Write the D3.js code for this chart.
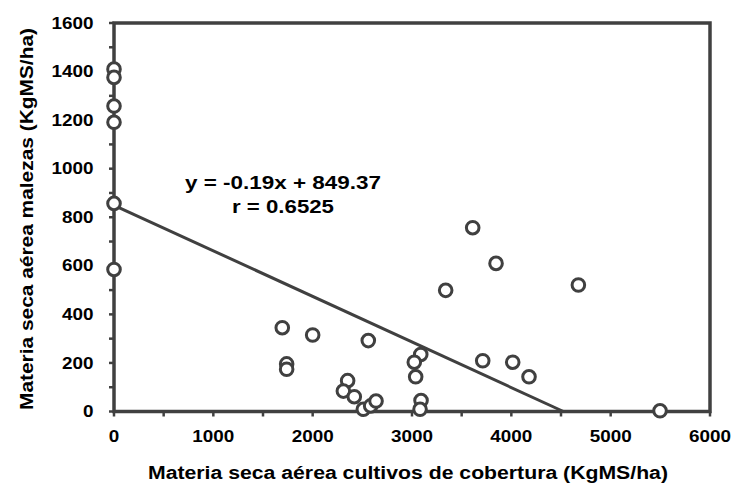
<!DOCTYPE html>
<html>
<head>
<meta charset="utf-8">
<script src="https://cdn.jsdelivr.net/npm/d3@7"></script>
<style>
  body { margin: 0; background: #fff; }
  text { font-family: "Liberation Sans", Arial, sans-serif; font-weight: bold; fill: #000; }
</style>
</head>
<body>
<svg id="chart" width="735" height="490"></svg>
<script>
// cover crop dry matter (x) vs weed dry matter (y), KgMS/ha
var coverKg = [0, 0, 0, 0, 0, 0,
  1694, 2000, 1738, 1738, 2560, 2352, 2309, 2419, 2510, 2584, 2638,
  3088, 3023, 3037, 3091, 3081, 3339, 3611, 3846, 3712,
  4675, 4014, 4178, 5497];
var weedKg = [1410, 1376, 1258, 1191, 857, 585,
  345, 315, 196, 174, 292, 127, 84, 61, 9, 23, 43,
  235, 203, 143, 45, 9, 499, 757, 610, 209,
  521, 203, 143, 3];

var xTicks = [0, 1000, 2000, 3000, 4000, 5000, 6000];
var yTicks = [0, 200, 400, 600, 800, 1000, 1200, 1400, 1600];
var fitSlope = -0.1877;
var fitIntercept = 849.37;
var fitEnd = 4525;
var eqLines = ['y = -0.19x + 849.37', 'r = 0.6525'];

var ink = '#404040';
var svg = d3.select('#chart');

var x = d3.scaleLinear().domain([0, 6000]).range([114, 710]);
var y = d3.scaleLinear().domain([0, 1600]).range([411.5, 23]);

// the original text is a bit wider than Arial, stretch it
function stretch(sel, factor) {
  sel.each(function () {
    var w = this.getComputedTextLength();
    d3.select(this)
      .attr('textLength', w * factor)
      .attr('lengthAdjust', 'spacingAndGlyphs');
  });
}

// minor ticks every 500 / 100, drawn outward
svg.append('g').selectAll('line')
  .data(d3.range(0, 6001, 500))
  .enter().append('line')
  .attr('x1', function (d) { return x(d); })
  .attr('x2', function (d) { return x(d); })
  .attr('y1', y(0))
  .attr('y2', y(0) + 5)
  .attr('stroke', ink)
  .attr('stroke-width', 2.5);

svg.append('g').selectAll('line')
  .data(d3.range(0, 1601, 100))
  .enter().append('line')
  .attr('x1', x(0) - 5)
  .attr('x2', x(0))
  .attr('y1', function (d) { return y(d); })
  .attr('y2', function (d) { return y(d); })
  .attr('stroke', ink)
  .attr('stroke-width', 2.5);

// tick labels
svg.append('g').selectAll('text')
  .data(xTicks)
  .enter().append('text')
  .attr('x', function (d) { return x(d); })
  .attr('y', 441.7)
  .attr('text-anchor', 'middle')
  .style('font-size', '17px')
  .text(function (d) { return d; })
  .call(stretch, 1.11);

svg.append('g').selectAll('text')
  .data(yTicks)
  .enter().append('text')
  .attr('x', 93.5)
  .attr('y', function (d) { return y(d) + 5.6; })
  .attr('text-anchor', 'end')
  .style('font-size', '17px')
  .text(function (d) { return d; })
  .call(stretch, 1.11);

// plot frame
svg.append('rect')
  .attr('x', x(0))
  .attr('y', y(1600))
  .attr('width', x(6000) - x(0))
  .attr('height', y(0) - y(1600))
  .attr('fill', 'none')
  .attr('stroke', ink)
  .attr('stroke-width', 3.5);

// regression line
svg.append('line')
  .attr('x1', x(0))
  .attr('y1', y(fitIntercept))
  .attr('x2', x(fitEnd))
  .attr('y2', y(fitIntercept + fitSlope * fitEnd))
  .attr('stroke', ink)
  .attr('stroke-width', 3);

// points
svg.append('g').selectAll('circle')
  .data(d3.range(coverKg.length))
  .enter().append('circle')
  .attr('cx', function (i) { return x(coverKg[i]); })
  .attr('cy', function (i) { return y(weedKg[i]); })
  .attr('r', 6.3)
  .attr('fill', '#fff')
  .attr('stroke', ink)
  .attr('stroke-width', 3);

// equation
svg.append('text')
  .attr('x', 185)
  .attr('y', 188.5)
  .style('font-size', '19px')
  .attr('textLength', 196)
  .attr('lengthAdjust', 'spacingAndGlyphs')
  .text(eqLines[0]);
svg.append('text')
  .attr('x', 232)
  .attr('y', 212.5)
  .style('font-size', '19px')
  .attr('textLength', 102)
  .attr('lengthAdjust', 'spacingAndGlyphs')
  .text(eqLines[1]);

// axis titles
svg.append('text')
  .attr('x', 148)
  .attr('y', 478.5)
  .style('font-size', '18px')
  .attr('textLength', 520)
  .attr('lengthAdjust', 'spacingAndGlyphs')
  .text('Materia seca aérea cultivos de cobertura (KgMS/ha)');

svg.append('text')
  .attr('transform', 'translate(32.5,410) rotate(-90)')
  .style('font-size', '18px')
  .attr('textLength', 382)
  .attr('lengthAdjust', 'spacingAndGlyphs')
  .text('Materia seca aérea malezas (KgMS/ha)');
</script>
</body>
</html>
